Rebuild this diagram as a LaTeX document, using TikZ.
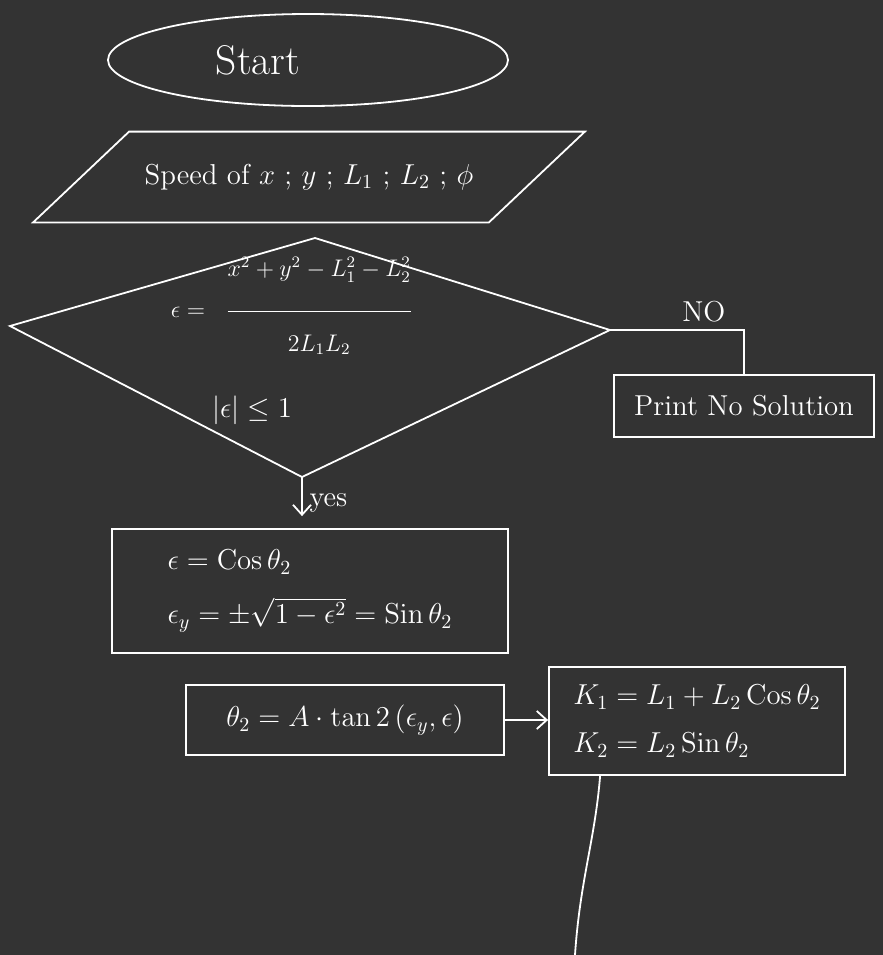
\documentclass[tikz,border=0pt]{standalone}
\usepackage{amsmath}
\usetikzlibrary{shapes.geometric,arrows.meta}
\definecolor{board}{HTML}{333333}
\begin{document}
\begin{tikzpicture}[x=0.5pt, y=-0.5pt, white, line width=0.9pt, >={Straight Barb[length=5pt,width=9pt]},
  every node/.style={font=\Large},
  procbox/.style={draw, rectangle, align=left, inner sep=0pt}]
  \fill[board] (0,0) rectangle (883,955);
  \useasboundingbox (0,0) rectangle (883,955);
  \node[draw, ellipse, minimum width=200pt, minimum height=46pt, font=\huge] (start) at (308,60) {Start\kern50pt};
  % input parallelogram
  \node[minimum width=227pt, minimum height=44.5pt, inner sep=0pt] (input) at (309,177) {Speed of $x$ ; $y$ ; $L_1$ ; $L_2$ ; $\phi$};
  \draw ([xshift=24pt]input.north west) -- ([xshift=24pt]input.north east)
    -- ([xshift=-24pt]input.south east) -- ([xshift=-24pt]input.south west) -- cycle;
  % decision
  \coordinate (dtop) at (315,238);
  \coordinate (dright) at (610,330);
  \coordinate (dbot) at (302,477);
  \coordinate (dleft) at (10,326);
  \draw (dtop) -- (dright) -- (dbot) -- (dleft) -- cycle;
  \node[font=\large] (ratio) at (292,306) {$\epsilon = \;\;\dfrac{x^{2}+y^{2}-L_{1}^{2}-L_{2}^{2}\rule[-16pt]{0pt}{16pt}}{\rule{0pt}{18pt}2L_1L_2}$};
  \node (cond) at (252,410) {$|\epsilon| \leq 1$};
  \node[procbox, minimum width=130pt, minimum height=31pt] (nosol) at (744,406) {Print No Solution};
  \draw (dright) -| node[pos=0.35, above] {NO} (nosol.north);
  % yes branch
  \node[procbox, minimum width=198pt, minimum height=62pt] (cosbox) at (310,591)
    {$\epsilon = \mathrm{Cos}\,\theta_2$\\[9pt] $\epsilon_y = \pm\sqrt{1-\epsilon^2} = \mathrm{Sin}\,\theta_2$};
  \draw[->, shorten >=6pt] (dbot) -- node[right] {yes} (dbot |- cosbox.north);
  \node[procbox, minimum width=159pt, minimum height=35pt] (theta) at (345,720)
    {$\theta_2 = A\cdot\mathrm{tan}\,2\left(\epsilon_y , \epsilon\right)$};
  \node[procbox, minimum width=148pt, minimum height=54pt] (kbox) at (697,721)
    {$K_1 = L_1 + L_2\,\mathrm{Cos}\,\theta_2$\\[6pt] $K_2 = L_2\,\mathrm{Sin}\,\theta_2$};
  \draw[->] (theta.east) -- (theta.east -| kbox.west);
  \coordinate (loose) at (575,955);
  \draw ([xshift=26pt]kbox.south west) .. controls (595,840) and (580,880) .. (loose);
\end{tikzpicture}
\end{document}
